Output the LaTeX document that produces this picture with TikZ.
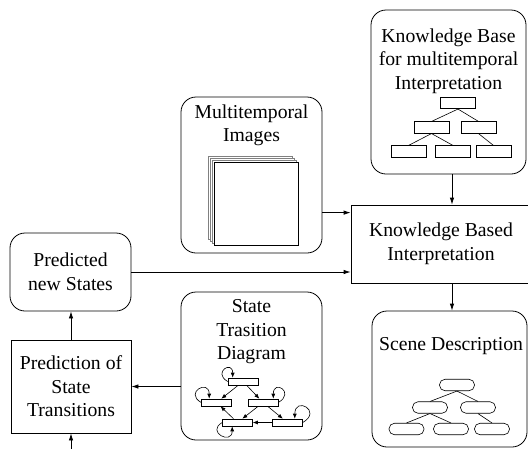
\documentclass[tikz,border=0pt]{standalone}
\usepackage{fontspec}
\setmainfont{Liberation Serif}
\usetikzlibrary{arrows.meta,positioning,calc}

\begin{document}
\begin{tikzpicture}[x=1pt,y=-1pt,line width=0.8pt,
    font=\rmfamily\fontsize{19.7}{23.5}\selectfont,
    box/.style={draw,rounded corners=15pt,inner sep=0pt},
    sqbox/.style={draw,inner sep=0pt,align=center},
    title/.style={anchor=north,align=center,inner sep=0pt},
    leaf/.style={draw,line width=0.6pt,minimum width=35pt,minimum height=11.5pt,inner sep=0pt},
    sleaf/.style={leaf,rounded corners=5.5pt},
    st/.style={draw,line width=0.6pt,minimum width=30pt,minimum height=7pt,inner sep=0pt},
    tip/.style={-{Latex[length=7pt,width=4.5pt]}},
    stip/.style={-{Latex[length=5pt,width=4pt]},line width=0.6pt}]

    \clip (0,0) rectangle (528,448);

    % knowledge base
    \node[box,minimum width=155pt,minimum height=164pt] (kb) at (448.5,92) {};
    \node[title] (kbt) at ([yshift=-18.5pt]kb.north) {Knowledge Base\\for multitemporal\\Interpretation};
    \foreach \n/\x/\y in {kbr/458/103, kba/431.5/127.5, kbb/478.5/127.5, kbc/408.5/151.5, kbd/453/151.5, kbe/493.5/151.5}{
        \node[leaf] (\n) at (\x,\y) {};
    }
    \foreach \a/\b in {kbr/kba, kbr/kbb, kba/kbc, kba/kbd, kbb/kbe}{
        \draw[line width=0.6pt] (\a.south) -- (\b.north);
    }

    % images
    \node[box,minimum width=141pt,minimum height=156pt] (images) at (251.5,175) {};
    \node[title] (imgt) at ([yshift=-7.4pt]images.north) {Multitemporal\\Images};
    \foreach \d in {6,4,2}{
        \draw[gray,fill=white,line width=0.6pt] (214-\d,162-\d) rectangle (298-\d,245-\d);
    }
    \node[draw,fill=white,line width=0.8pt,minimum width=84pt,minimum height=83pt,inner sep=0pt] (img) at (256,203.5) {};

    % interpretation, prediction
    \node[sqbox,minimum width=180pt,minimum height=78pt] (kbi) at (441,244) {Knowledge Based\\Interpretation};
    \node[box,minimum width=121pt,minimum height=78pt,align=center] (pred) at (70.5,272) {Predicted\\new States};
    \node[sqbox,minimum width=120pt,minimum height=93pt] (trans) at (71,386.5) {Prediction of\\State\\Transitions};

    % state diagram
    \node[box,minimum width=141pt,minimum height=148pt] (std) at (251.5,366) {};
    \node[title] (stdt) at ([yshift=-7.7pt]std.north) {State\\Trasition\\Diagram};
    \foreach \n/\x/\y in {sa/243/381.5, sb/216.5/402.5, sc/263/402.5, sd/237.5/422.5, se/287.5/422.5}{
        \node[st] (\n) at (\x,\y) {};
    }
    \foreach \a/\b in {sa/sb, sa/sc, sd/sb, sc/sd, sc/se, se/sd}{
        \draw[stip] (\a) -- (\b);
    }
    \draw[stip] (sa.west) to[out=150,in=90,distance=18pt] ([xshift=5pt]sa.north west);
    \draw[stip] (sb.west) to[out=150,in=90,distance=20pt] ([xshift=8pt]sb.north west);
    \draw[stip] (sc.east) to[out=30,in=90,distance=20pt] ([xshift=-5pt]sc.north east);
    \draw[stip] (se.east) to[out=30,in=90,distance=23pt] ([xshift=-8pt]se.north east);
    \draw[stip] (sd.west) to[out=210,in=-90,distance=19pt] ([xshift=10pt]sd.south west);

    % scene description
    \node[box,minimum width=155pt,minimum height=136pt] (scene) at (449.5,379) {};
    \node[title] (scenet) at ([yshift=-26.4pt,xshift=1.5pt]scene.north) {Scene Description};
    \foreach \n/\x/\y in {sdr/457/385, sda/430/407.5, sdb/478/407.5, sdc/406.5/429, sdd/451/429, sde/492/429}{
        \node[sleaf] (\n) at (\x,\y) {};
    }
    \foreach \a/\b in {sdr/sda, sdr/sdb, sda/sdc, sda/sdd, sdb/sde}{
        \draw[line width=0.6pt] (\a.south) -- (\b.north);
    }

    % connectors
    \coordinate (kbin) at ([yshift=-8pt]kbi.north west);
    \coordinate (feed) at ([yshift=-20pt]trans.south);
    \draw[tip] ([xshift=3.5pt]kb.south) -- ([xshift=3.5pt]kb.south |- kbi.north);
    \draw[tip] (images.east |- kbin) -- (kbin);
    \draw[tip] (pred.east) -- (pred.east -| kbi.west);
    \draw[tip] ([xshift=2.5pt]kbi.south -| scene.north) -- ([xshift=2.5pt]scene.north);
    \draw[tip] (std.west |- trans.east) -- (trans.east);
    \draw[tip] (trans.north) -- (trans.north |- pred.south);
    \draw[tip] (feed) -- (trans.south);
\end{tikzpicture}
\end{document}
